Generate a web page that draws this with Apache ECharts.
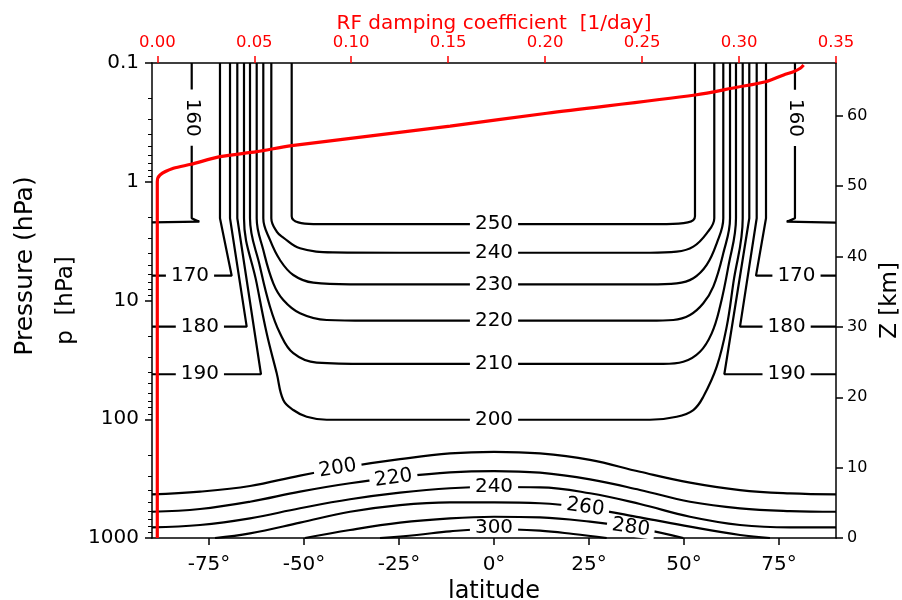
<!DOCTYPE html>
<html><head><meta charset="utf-8">
<script src="https://cdn.jsdelivr.net/npm/echarts@6/dist/echarts.min.js"></script>
<style>html,body{margin:0;padding:0;background:#fff}#c{width:902px;height:600px}</style>
</head><body><div id="c"></div>
<script>
// ---------------- data ----------------
const latTicks = [-75, -50, -25, 0, 25, 50, 75];
const pressureTicks = [0.1, 1, 10, 100, 1000];
const rfTicks = [0, 0.05, 0.10, 0.15, 0.20, 0.25, 0.30, 0.35];
const zTicks = [0, 10, 20, 30, 40, 50, 60];
const zTop = 67.5;          // Z [km] at 0.1 hPa
const rfMin = -0.00273;     // top axis left end

// stratospheric contours (polar vortex edge), [latitude, pressure hPa]
const t160W = [[-79.55,0.1],[-79.55,2.03],[-77.55,2.17],[-90,2.20]];
const t160E = [[79.2,0.1],[79.2,2.03],[77.03,2.17],[90,2.21]];
const t170W = [[-72.11,0.1],[-72.11,2.03],[-69.03,6.18],[-90,6.18]];
const t170E = [[71.58,0.1],[71.58,2.03],[68.95,6.18],[90,6.18]];
const t180W = [[-69.47,0.1],[-69.47,2.03],[-65.08,16.6],[-90,16.6]];
const t180E = [[69.13,0.1],[69.13,2.03],[64.74,16.6],[90,16.6]];
const t190W = [[-67.55,0.1],[-67.55,2.03],[-61.32,41.8],[-90,41.8]];
const t190E = [[67.18,0.1],[67.18,2.03],[60.61,41.8],[90,41.8]];

// stratospheric contours 200-250 (U shaped)
const s200 = [[-65.79,0.1],[-65.79,2.03],[-62.45,7.17],[-59.82,18.9],[-57.18,41.0],[-55.45,68.9],[-52.82,83.6],[-49.29,95.2],[-44.03,101],[-20,101],[0,101],[20,101],[41.05,101],[48.08,95.2],[52.45,83.6],[55.08,64.6],[58.61,36.1],[61.24,16.6],[62.97,7.17],[65.45,2.03],[65.45,0.1]];
const s210 = [[-64.21,0.1],[-64.21,2.03],[-61.58,5.19],[-58.95,11.3],[-56.32,18.9],[-52.82,27.8],[-46.66,33.4],[-33.5,34.2],[0,34.2],[33.5,34.2],[44.55,34.2],[49.82,32.8],[54.21,27.0],[57.29,18.9],[59.47,11.3],[61.66,5.19],[63.68,2.03],[63.68,0.1]];
const s220 = [[-62.45,0.1],[-62.45,2.03],[-60.71,3.76],[-58.08,7.17],[-55.45,9.90],[-51.05,12.8],[-44.03,14.6],[-33.5,14.8],[0,14.8],[41.05,14.8],[47.18,14.6],[51.58,13.25],[55.08,10.56],[57.71,7.65],[60.34,4.0],[62.11,2.03],[62.11,0.1]];
const s230 = [[-60.71,0.1],[-60.71,2.03],[-58.95,3.09],[-56.32,4.56],[-52.82,6.10],[-47.55,7.08],[-37.89,7.31],[0,7.31],[41.05,7.31],[48.08,7.17],[52.45,6.50],[55.97,5.02],[58.61,3.30],[60.34,2.03],[60.34,0.1]];
const s240 = [[-58.6,0.1],[-58.6,2.03],[-57.18,2.63],[-55.45,2.95],[-51.05,3.63],[-42.37,3.93],[-24.74,3.96],[0,3.96],[41.05,3.96],[48.08,3.88],[52.45,3.52],[55.97,2.72],[57.97,2.03],[57.97,0.1]];
const s250 = [[-53.24,0.1],[-53.24,1.95],[-51.5,2.2],[-47.55,2.27],[0,2.27],[45.45,2.27],[51.0,2.2],[52.89,1.95],[52.89,0.1]];

// tropospheric contours 200-300
const b200 = [[-90,429],[-77.37,407],[-64.21,365],[-51.05,298],[-37.89,250],[-24.74,217],[-11.58,194],[0,188],[12.1,194],[25.26,220],[38.42,277],[51.58,342],[64.74,395],[77.89,421],[90,429]];
const b220 = [[-90,601],[-77.37,570],[-64.21,495],[-51.05,407],[-37.89,346],[-24.74,306],[-11.58,280],[0,273],[12.1,282],[25.26,321],[38.42,394],[51.58,495],[64.74,562],[77.89,593],[90,601]];
const b240 = [[-90,813],[-77.37,777],[-64.21,683],[-51.05,562],[-37.89,472],[-24.74,415],[-11.58,381],[0,372],[12.1,374],[25.26,420],[38.42,517],[51.58,662],[64.74,777],[77.89,815],[90,815]];
const b260 = [[-73.42,1000],[-64.21,913],[-51.05,743],[-37.89,601],[-24.74,528],[-11.58,502],[0,502],[12.1,510],[25.26,565],[38.42,670],[51.58,803],[64.74,943],[72.63,1000]];
const b280 = [[-49.74,1000],[-37.89,856],[-24.74,743],[-11.58,683],[0,662],[12.1,670],[25.26,729],[38.42,833],[49.82,1000]];
const b300 = [[-30.0,1000],[-20.34,943],[-11.58,878],[0,840],[12.1,868],[20.87,925],[29.66,1000]];

// contour labels: [text, latitude, pressure, rotation deg]
const contourLabels = [
  ['160',-79.55,0.288,-90],['160',79.2,0.29,-90],
  ['170',-80,6.18,0],['170',79.6,6.18,0],
  ['180',-77.4,16.6,0],['180',77.0,16.6,0],
  ['190',-77.4,41.8,0],['190',77.0,41.8,0],
  ['250',0,2.27,0],['240',0,3.96,0],['230',0,7.31,0],['220',0,14.8,0],['210',0,34.2,0],['200',0,101,0],
  ['200',-41.13,259,9],['220',-26.45,314,8],['240',0,372,0],['260',24.03,551,-8],['280',36.0,815,-8],['300',0,825,0]
];

// RF damping coefficient profile: [coefficient 1/day, pressure hPa]
const rfProfile = [[0,1000],[0,100],[0,10],[0,1.0],[0.0014,0.877],[0.0083,0.771],[0.0174,0.713],[0.0323,0.615],[0.0513,0.558],[0.0693,0.497],[0.151,0.340],[0.2009,0.265],[0.2774,0.186],[0.2989,0.160],[0.3137,0.1437],[0.323,0.126],[0.3281,0.1184],[0.3316,0.1108],[0.3333,0.104]];

// ---------------- chart ----------------
const FONT = 'DejaVu Sans';
const lg = v => Math.log10(v);
const majorY = pressureTicks.map(lg);
const minorY = [];
for (let k = -1; k <= 2; k++) for (let m = 2; m <= 9; m++) minorY.push(lg(m * Math.pow(10, k)));

function contour(pts, smooth) {
  return {
    type: 'line', xAxisIndex: 0, yAxisIndex: 0,
    data: pts.map(d => [d[0], lg(d[1])]),
    showSymbol: false, symbol: 'none', smooth: smooth,
    lineStyle: { color: '#000', width: 2.2 }, z: 2, silent: true
  };
}

const series = [];
[t160W, t160E, t170W, t170E, t180W, t180E, t190W, t190E].forEach(l => series.push(contour(l, false)));
[s200, s210, s220, s230, s240, s250].forEach(l => series.push(contour(l, 0.4)));
[b200, b220, b240, b260, b280, b300].forEach(l => series.push(contour(l, 0.4)));

series.push({
  type: 'line', xAxisIndex: 1, yAxisIndex: 0,
  data: rfProfile.map(d => [d[0], lg(d[1])]),
  showSymbol: false, symbol: 'none', smooth: 0.3,
  lineStyle: { color: '#ff0000', width: 3.2 }, z: 6, silent: true
});

series.push({
  type: 'scatter', xAxisIndex: 0, yAxisIndex: 0, z: 10, silent: true,
  symbolSize: 1, itemStyle: { color: 'rgba(255,255,255,0)' },
  data: contourLabels.map(d => ({
    name: d[0], value: [d[1], lg(d[2])],
    label: { rotate: d[3], padding: d[3] === -90 ? [2, 9] : [0, 5] }
  })),
  label: {
    show: true, position: 'inside', formatter: '{b}',
    fontFamily: FONT, fontSize: 20, color: '#000', opacity: 1,
    textBorderWidth: 0, textBorderColor: 'transparent', textShadowBlur: 0,
    backgroundColor: '#fff', lineHeight: 18
  },
  labelLayout: { hideOverlap: false }
});

const blackLine = { show: true, onZero: false, lineStyle: { color: '#000', width: 1.5 } };

const option = {
  animation: false,
  backgroundColor: '#fff',
  textStyle: { fontFamily: FONT },
  grid: { left: 152, top: 63, width: 684, height: 475, containLabel: false, outerBoundsMode: 'none' },
  xAxis: [
    {
      type: 'value', position: 'bottom', min: -90, max: 90,
      axisLine: blackLine,
      axisTick: { show: true, customValues: latTicks, length: 7, lineStyle: { color: '#000', width: 1.5 } },
      axisLabel: { customValues: latTicks, formatter: v => v + '°', fontSize: 20, color: '#000', margin: 17, fontFamily: FONT },
      splitLine: { show: false },
      name: 'latitude', nameLocation: 'middle', nameGap: 41,
      nameTextStyle: { fontSize: 24, color: '#000', fontFamily: FONT }
    },
    {
      type: 'value', position: 'top', min: rfMin, max: 0.35,
      axisLine: blackLine,
      axisTick: { show: true, customValues: rfTicks, length: 7, lineStyle: { color: '#ff0000', width: 1.5 } },
      axisLabel: { customValues: rfTicks, formatter: v => v.toFixed(2), fontSize: 16.5, color: '#ff0000', margin: 12, fontFamily: FONT },
      splitLine: { show: false },
      name: 'RF damping coefficient  [1/day]', nameLocation: 'middle', nameGap: 29, nameMoveOverlap: false,
      nameTextStyle: { fontSize: 20, color: '#ff0000', fontFamily: FONT }
    }
  ],
  yAxis: [
    {
      type: 'value', position: 'left', min: -1, max: 3, inverse: true,
      axisLine: blackLine,
      axisTick: { show: true, customValues: majorY, length: 7, lineStyle: { color: '#000', width: 1.5 } },
      axisLabel: {
        customValues: majorY, fontSize: 20, color: '#000', margin: 13, fontFamily: FONT,
        formatter: v => String(pressureTicks[Math.round(v) + 1])
      },
      splitLine: { show: false },
      name: 'p  [hPa]', nameLocation: 'middle', nameGap: 72, nameRotate: 90,
      nameTextStyle: { fontSize: 23, color: '#000', fontFamily: FONT }
    },
    {
      type: 'value', position: 'left', min: -1, max: 3, inverse: true,
      axisLine: { show: false, onZero: false },
      axisTick: { show: true, customValues: minorY, length: 4, lineStyle: { color: '#000', width: 1 } },
      axisLabel: { show: false },
      splitLine: { show: false }
    },
    {
      type: 'value', position: 'right', min: 0, max: zTop,
      axisLine: blackLine,
      axisTick: { show: true, customValues: zTicks, length: 7, lineStyle: { color: '#000', width: 1.5 } },
      axisLabel: { customValues: zTicks, fontSize: 16, color: '#000', margin: 11, fontFamily: FONT },
      splitLine: { show: false },
      name: 'Z [km]', nameLocation: 'middle', nameGap: 38, nameRotate: 90,
      nameTextStyle: { fontSize: 23, color: '#000', fontFamily: FONT }
    }
  ],
  graphic: [{
    type: 'text', x: 25, y: 266, rotation: Math.PI / 2,
    style: { text: 'Pressure (hPa)', fontSize: 25, fontFamily: FONT, fill: '#000', align: 'center', verticalAlign: 'middle' }
  }],
  series: series
};

const chart = echarts.init(document.getElementById('c'), null, { renderer: 'canvas' });
chart.setOption(option);
</script>
</body></html>
